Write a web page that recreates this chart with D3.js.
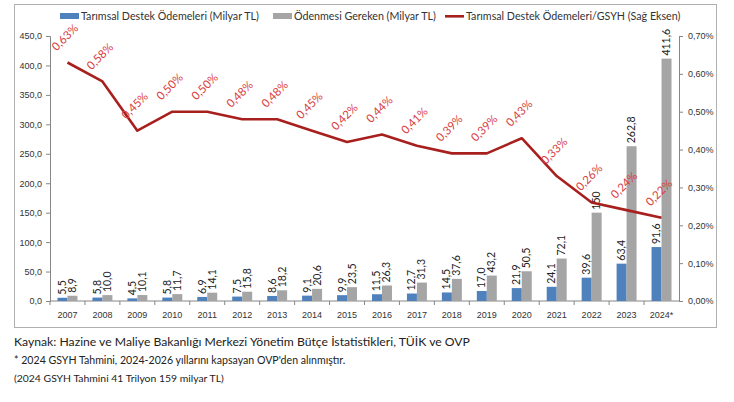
<!DOCTYPE html>
<html><head><meta charset="utf-8">
<script src="https://cdn.jsdelivr.net/npm/d3@7"></script>
<style>
body{margin:0;background:#fff;}
svg{display:block;font-family:Lato,"Open Sans",sans-serif;}
</style></head>
<body><svg id="c" width="734" height="402"></svg>
<script>
const years = ["2007","2008","2009","2010","2011","2012","2013","2014","2015","2016","2017","2018","2019","2020","2021","2022","2023","2024*"];
const destek = [5.5,5.8,4.5,5.8,6.9,7.5,8.6,9.1,9.9,11.5,12.7,14.5,17.0,21.9,24.1,39.6,63.4,91.6];
const gereken = [8.9,10.0,10.1,11.7,14.1,15.8,18.2,20.6,23.5,26.3,31.3,37.6,43.2,50.5,72.1,150,262.8,411.6];
const gerekenLabels = ["8,9","10,0","10,1","11,7","14,1","15,8","18,2","20,6","23,5","26,3","31,3","37,6","43,2","50,5","72,1","150","262,8","411,6"];
const oran = [0.63,0.58,0.45,0.50,0.50,0.48,0.48,0.45,0.42,0.44,0.41,0.39,0.39,0.43,0.33,0.26,0.24,0.22];
const leftTicks = [0,50,100,150,200,250,300,350,400,450];
const rightTicks = [0,0.1,0.2,0.3,0.4,0.5,0.6,0.7];
const legendLabels = ["Tarımsal Destek Ödemeleri (Milyar TL)","Ödenmesi Gereken (Milyar TL)","Tarımsal Destek Ödemeleri/GSYH (Sağ Eksen)"];
const notes = ["Kaynak: Hazine ve Maliye Bakanlığı Merkezi Yönetim Bütçe İstatistikleri, TÜİK ve OVP","* 2024 GSYH Tahmini, 2024-2026 yıllarını kapsayan OVP'den alınmıştır.","(2024 GSYH Tahmini 41 Trilyon 159 milyar TL)"];

const fmt = v => d3.format(".1f")(v).replace(".", ",");
const fmtP = v => d3.format(".2f")(v).replace(".", ",") + "%";

const svg = d3.select("#c");
const L = 50, R = 679, T = 36, B = 301;
const blue = "#4f81bd", gray = "#a5a5a5", red = "#a8201e", lbl = "#d9403f", axisC = "#868686";

svg.append("rect").attr("x",14.5).attr("y",4.5).attr("width",702).attr("height",323).attr("fill","none").attr("stroke","#b0b0b0");

const x = d3.scaleBand().domain(years).range([L,R]);
const yL = d3.scaleLinear().domain([0,450]).range([B,T]);
const yR = d3.scaleLinear().domain([0,0.7]).range([B,T]);
const inner = d3.scaleBand().domain([0,1]).range([0,x.bandwidth()]).paddingInner(0).paddingOuter(0.75);

// axes
const axL = svg.append("g").attr("transform",`translate(${L},0)`)
  .call(d3.axisLeft(yL).tickValues(leftTicks).tickFormat(fmt).tickSize(4));
const axR = svg.append("g").attr("transform",`translate(${R},0)`)
  .call(d3.axisRight(yR).tickValues(rightTicks).tickFormat(fmtP).tickSize(4));
const axB = svg.append("g").attr("transform",`translate(0,${B})`)
  .call(d3.axisBottom(x).tickSize(4).tickSizeOuter(0));
[axL,axR,axB].forEach(a=>{
  a.selectAll("path,line").attr("stroke",axisC);
  a.selectAll("text").attr("fill","#333").style("font-size","9px");
});
axB.selectAll("line").attr("transform",`translate(${-x.bandwidth()/2},0)`);
axB.selectAll("text").attr("dy","1.1em");
axL.selectAll("text").attr("dx","-1");
axR.selectAll("text").attr("dx","2");
axB.select(".domain").attr("d",`M${L},0H${R}`);

// bars
const g = svg.append("g");
g.selectAll(".b1").data(destek).join("rect")
  .attr("x",(d,i)=>x(years[i])+inner(0)).attr("width",inner.bandwidth())
  .attr("y",d=>yL(d)).attr("height",d=>B-yL(d)).attr("fill",blue);
g.selectAll(".b2").data(gereken).join("rect")
  .attr("x",(d,i)=>x(years[i])+inner(1)).attr("width",inner.bandwidth())
  .attr("y",d=>yL(d)).attr("height",d=>B-yL(d)).attr("fill",gray);

// bar labels
g.selectAll(".l1").data(destek).join("text")
  .attr("transform",(d,i)=>`translate(${x(years[i])+inner(0)+inner.bandwidth()/2+3.5},${yL(d)-3}) rotate(-90)`)
  .attr("font-size","10.5px").attr("fill","#222").text(d=>fmt(d));
g.selectAll(".l2").data(gereken).join("text")
  .attr("transform",(d,i)=>`translate(${x(years[i])+inner(1)+inner.bandwidth()/2+3.5},${yL(d)-3}) rotate(-90)`)
  .attr("font-size","10.5px").attr("fill","#222").text((d,i)=>gerekenLabels[i]);

// line
const line = d3.line().x((d,i)=>x(years[i])+x.bandwidth()/2).y(d=>yR(d));
svg.append("path").datum(oran).attr("d",line).attr("fill","none").attr("stroke",red).attr("stroke-width",2.6).attr("stroke-linejoin","round");
svg.selectAll(".pl").data(oran).join("text")
  .attr("transform",(d,i)=>`translate(${x(years[i])+x.bandwidth()/2-11},${yR(d)-11}) rotate(-45)`)
  .attr("font-size","11.5px").attr("fill",lbl).text(d=>fmtP(d));

// legend
const lg = svg.append("g").style("font-size","10.7px").attr("fill","#333");
lg.append("rect").attr("x",60).attr("y",13).attr("width",19).attr("height",6).attr("fill",blue);
lg.append("text").attr("x",81).attr("y",20).text(legendLabels[0]);
lg.append("rect").attr("x",273).attr("y",13).attr("width",19).attr("height",6).attr("fill",gray);
lg.append("text").attr("x",294).attr("y",20).text(legendLabels[1]);
lg.append("rect").attr("x",445).attr("y",15).attr("width",19).attr("height",2.6).attr("fill",red);
lg.append("text").attr("x",466).attr("y",20).text(legendLabels[2]);

// notes
svg.append("text").attr("x",14).attr("y",346).style("font-size","12.2px").attr("fill","#222").text(notes[0]);
svg.append("text").attr("x",14).attr("y",364).style("font-size","10.6px").attr("fill","#222").text(notes[1]);
svg.append("text").attr("x",14).attr("y",382).style("font-size","10.4px").attr("fill","#222").text(notes[2]);
</script></body></html>
